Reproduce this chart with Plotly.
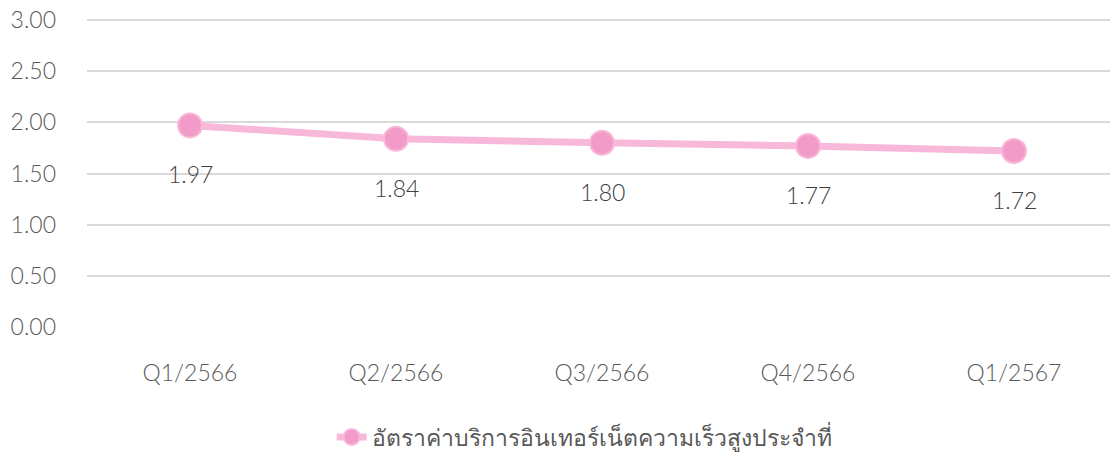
import plotly.graph_objects as go

categories = ["Q1/2566", "Q2/2566", "Q3/2566", "Q4/2566", "Q1/2567"]
values = [1.97, 1.84, 1.80, 1.77, 1.72]
series_name = "อัตราค่าบริการอินเทอร์เน็ตความเร็วสูงประจำที่"
y_ticks = [0, 0.5, 1.0, 1.5, 2.0, 2.5, 3.0]

FONT = "Lato, Noto Sans, sans-serif"

fig = go.Figure()
fig.add_trace(go.Scatter(
    x=categories, y=values, name=series_name, mode="lines+markers",
    line=dict(color="#F7B8D9", width=7),
    marker=dict(size=24, color="#F29BC8", line=dict(color="#F7B8D9", width=2)),
))

for c, v in zip(categories, values):
    fig.add_annotation(x=c, y=v, text=f"{v:.2f}", showarrow=False, yshift=-49,
                       font=dict(size=23, color="#404040", family=FONT, weight=300))

fig.update_layout(
    width=1110, height=456,
    margin=dict(l=87, r=0, t=18, b=129, autoexpand=False),
    paper_bgcolor="white", plot_bgcolor="white",
    font=dict(family=FONT, color="#595959", size=23, weight=300),
    showlegend=True,
    legend=dict(orientation="h", x=0.486, xanchor="center", y=-0.356, yanchor="middle",
                font=dict(size=23, color="#595959", family=FONT, weight=300)),
)
fig.update_xaxes(type="category", range=[-0.5, 4.466], showgrid=False, showline=False,
                 ticks="", tickfont=dict(size=23, color="#595959", weight=300),
                 ticklabelstandoff=30)
fig.update_yaxes(range=[0, 3.02], tickvals=y_ticks, tickformat=".2f", showgrid=True,
                 gridcolor="#D9D9D9", gridwidth=2, zeroline=False, showline=False,
                 tickfont=dict(size=23, color="#595959", weight=300), ticklabelstandoff=30,
                 ticklabeloverflow="allow")

fig.write_html("out.html", config={"displayModeBar": False},
               post_script="document.body.style.margin='0';document.body.style.overflow='hidden';")
